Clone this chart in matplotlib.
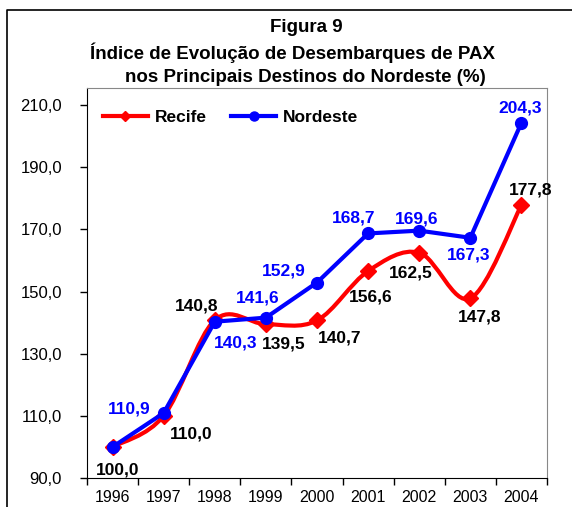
import matplotlib.pyplot as plt
from matplotlib.path import Path
from matplotlib.patches import PathPatch
from matplotlib.lines import Line2D
from matplotlib.ticker import FuncFormatter, FixedLocator

plt.rcParams['font.family'] = ['Liberation Sans', 'DejaVu Sans']

# data
anos = ['1996', '1997', '1998', '1999', '2000', '2001', '2002', '2003', '2004']
recife = [100.0, 110.0, 140.8, 139.5, 140.7, 156.6, 162.5, 147.8, 177.8]
nordeste = [100.0, 110.9, 140.3, 141.6, 152.9, 168.7, 169.6, 167.3, 204.3]

# label offsets in pixels (dx, dy)
off_recife = [(5, -23), (28, -18), (-18, 14), (18, -20), (23, -18), (3, -26), (-8, -20), (9, -19), (9, 15)]
off_nordeste = [(0, 0), (-34, 4), (21, -21), (-8, 20), (-33, 12), (-14, 15), (-3, 12), (-2, -17), (-1, 15)]

red = '#FF0000'
blue = '#0000FF'

fig = plt.figure(figsize=(5.72, 5.07), dpi=100)
ax = fig.add_axes([87 / 572, 1 - 478 / 507, 460 / 572, 390 / 507])

x = list(range(len(anos)))


# smoothed line (Excel style bezier through the points)
def smooth_path(xs, ys):
    verts = [(xs[0], ys[0])]
    codes = [Path.MOVETO]
    n = len(xs)
    for i in range(n - 1):
        x0, y0 = (xs[i - 1], ys[i - 1]) if i > 0 else (xs[i], ys[i])
        x3, y3 = (xs[i + 2], ys[i + 2]) if i + 2 < n else (xs[i + 1], ys[i + 1])
        c1 = (xs[i] + (xs[i + 1] - x0) / 6, ys[i] + (ys[i + 1] - y0) / 6)
        c2 = (xs[i + 1] - (x3 - xs[i]) / 6, ys[i + 1] - (y3 - ys[i]) / 6)
        verts += [c1, c2, (xs[i + 1], ys[i + 1])]
        codes += [Path.CURVE4] * 3
    return Path(verts, codes)


ax.add_patch(PathPatch(smooth_path(x, recife), fill=False, edgecolor=red, lw=3, zorder=3))
ax.plot(x, recife, linestyle='none', marker='D', color=red, markersize=8.5, zorder=4)
ax.plot(x, nordeste, color=blue, lw=3, marker='o', markersize=8.5, zorder=5)

for i in range(len(anos)):
    if i > 0:
        ax.annotate(f'{nordeste[i]:.1f}'.replace('.', ','), (x[i], nordeste[i]),
                    xytext=off_nordeste[i], textcoords='offset pixels', ha='center', va='center',
                    fontsize=12.5, fontweight='bold', color=blue, zorder=6)
    ax.annotate(f'{recife[i]:.1f}'.replace('.', ','), (x[i], recife[i]),
                xytext=off_recife[i], textcoords='offset pixels', ha='center', va='center',
                fontsize=12.5, fontweight='bold', color='black', zorder=6)

ax.set_xlim(-0.5, 8.5)
ax.set_ylim(90, 215.5)
ax.set_yticks([90, 110, 130, 150, 170, 190, 210])
ax.yaxis.set_major_formatter(FuncFormatter(lambda v, p: f'{v:.1f}'.replace('.', ',')))
ax.xaxis.set_major_locator(FixedLocator([i - 0.5 for i in range(10)]))
ax.xaxis.set_minor_locator(FixedLocator(x))
ax.set_xticklabels([''] * 10)
ax.set_xticklabels(anos, minor=True)
ax.tick_params(axis='x', which='major', direction='out', length=5, width=1)
ax.tick_params(axis='x', which='minor', length=0, pad=9, labelsize=11.5)
ax.tick_params(axis='y', direction='out', length=5, width=1, labelsize=12, pad=13)

ax.spines['top'].set_color('#888888')
ax.spines['right'].set_color('#888888')
ax.spines['left'].set_color('black')
ax.spines['bottom'].set_color('black')

handles = [Line2D([], [], color=red, lw=3, marker='D', markersize=5.5),
           Line2D([], [], color=blue, lw=3, marker='o', markersize=6.5)]
ax.legend(handles, ['Recife', 'Nordeste'], loc='upper left', ncol=2, frameon=False,
          prop={'weight': 'bold', 'size': 12.5}, handlelength=2.6, handletextpad=0.4,
          columnspacing=1.4, bbox_to_anchor=(0.0, 0.985))

fig.text(306 / 572, 1 - 27 / 507, 'Figura 9', ha='center', va='center', fontsize=13.5, fontweight='bold')
fig.text(293 / 572, 1 - 53 / 507, 'Índice de Evolução de Desembarques de PAX', ha='center', va='center',
         fontsize=13.5, fontweight='bold')
fig.text(305 / 572, 1 - 78 / 507, 'nos Principais Destinos do Nordeste (%)', ha='center', va='center',
         fontsize=13.5, fontweight='bold')

# outer frame
fig.add_artist(Line2D([7 / 572, 7 / 572, 1], [0, 1 - 10 / 507, 1 - 10 / 507], color='black', lw=1.2))

fig.savefig('out.png', dpi=100)
